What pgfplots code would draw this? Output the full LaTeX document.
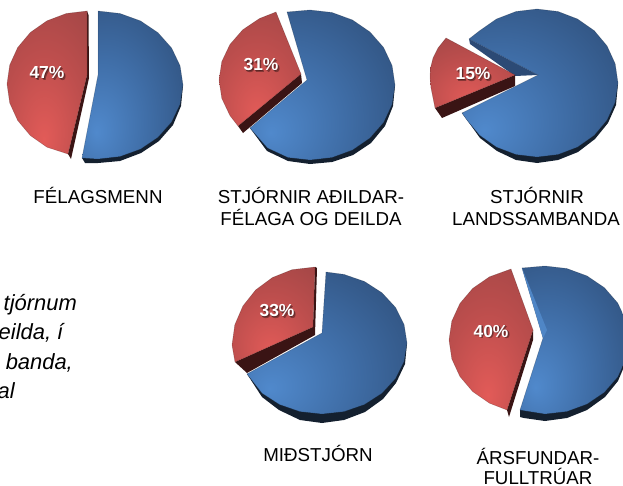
\documentclass[border=0pt]{standalone}
\usepackage{fontspec}
\setmainfont{Liberation Sans}
\usepackage{pgfplots}
\usepackage{pgfplotstable}
\pgfplotsset{compat=1.18}

\definecolor{blueHi}{HTML}{5089CC}
\definecolor{blueMid}{HTML}{3F6DA6}
\definecolor{blueLo}{HTML}{2C4A73}
\definecolor{blueRim}{HTML}{14202F}
\definecolor{blueWall}{HTML}{2C4A75}
\definecolor{blueFacet}{HTML}{4F86C6}
\definecolor{redHi}{HTML}{E25B58}
\definecolor{redMid}{HTML}{BD4E4D}
\definecolor{redLo}{HTML}{964343}
\definecolor{redRim}{HTML}{3A1414}

\pgfdeclareradialshading{bluepie}{\pgfpoint{-18bp}{-16bp}}{color(0bp)=(blueHi);color(22bp)=(blueMid);color(50bp)=(blueLo);color(100bp)=(blueLo)}
\pgfdeclareradialshading{redpie}{\pgfpoint{-2bp}{-20bp}}{color(0bp)=(redHi);color(25bp)=(redMid);color(55bp)=(redLo);color(100bp)=(redLo)}

% pie outlines in picture pixels, one table per slice
\pgfplotstableread{
98 11
120 13.5
140.5 20.9
158 32.7
171.6 48
180.1 65.8
183 85
180.1 104.2
171.6 122
158 137.3
140.5 149.1
120 156.5
98 159
82 158
98 75
}\blueA
\pgfplotstableread{
183 85
181 106
173 125
159 141
141 153
120 161
98 163
85 163
82 158
}\blueArim
\pgfplotstableread{
87 11
66.3 13.5
47 20.8
30.4 32.4
17.7 47.5
9.7 65.1
7 84
9.7 102.9
17.7 120.5
30.4 135.6
47 147.2
68 154
87 75
}\redA
\pgfplotstableread{
87 11
88.5 15
89 78
71 159
68 154
87 75
}\redArim
\pgfplotstableread{
287 12
310 10
332 12.5
352.5 20
370 32
383.6 47.5
392.1 65.6
395 85
392.1 104.4
383.6 122.5
370 138
352.5 150
332 157.5
310 160
288 157.5
267.5 148
250 128
307 80
}\blueB
\pgfplotstableread{
395 85
393 106
385 126
371 143
353 155
332 162
310 164
288 161
267 151
250 128
}\blueBrim
\pgfplotstableread{
276 12
259.5 18.5
242.7 29.8
229.9 44.5
221.8 61.6
219 80
221.8 98.4
229.9 115.5
238 126
301 74
}\redB
\pgfplotstableread{
238 126
301 74
302 83
243 133
}\redBrim
\pgfplotstableread{
469 39
479.7 30.7
496.5 19
516 11.5
537 9
558 11.5
577.5 19
594.3 30.7
607.1 46
615.2 63.8
618 83
615.2 102.2
607.1 120
594.3 135.3
577.5 147.1
558 154.5
537 157
516 154.5
496.5 147.1
479.7 135.3
466.9 120
462 113
538 75
}\blueC
\pgfplotstableread{
618 83
616 105
608 123
595 139
578 152
558 160
537 163
516 160
497 151
480 138
462 113
}\blueCrim
\pgfplotstableread{
469 39
538 75
515 76
470 44
}\wallC
\pgfplotstableread{
446 38
438 48
433 58
430.5 68
430 77
431 88
433 98
435 108
515 75
}\redC
\pgfplotstableread{
435 108
515 75
515 86
442 118
}\redCrim
\pgfplotstableread{
326 272
344 274.4
364.5 281.5
382 292.8
395.6 307.5
404.1 324.6
407 343
404.1 361.4
395.6 378.5
382 393.2
364.5 404.5
344 411.6
322 414
300 411.6
279.5 404.5
262 393.2
247 374
322 333
}\blueD
\pgfplotstableread{
407 343
405 364
396 383
383 399
365 412
344 420
322 423
300 420
279 410
262 397
247 374
}\blueDrim
\pgfplotstableread{
315 267
292 269.7
272.5 277.5
255.7 289.9
242.9 306
234.8 324.8
232 345
235 362
313 327
}\redD
\pgfplotstableread{
235 362
313 327
315 267
317 268
315 335
247 373
}\redDrim
\pgfplotstableread{
522 268
545 266
566.8 268.5
587 275.9
604.4 287.7
617.7 303
626.1 320.8
629 340
626.1 359.2
617.7 377
604.4 392.3
587 404.1
566.8 411.5
545 414
520 410
543 338
}\blueE
\pgfplotstableread{
629 340
626 362
618 381
605 397
587 410
567 418
545 421
524 418
520 417
520 410
}\blueErim
\pgfplotstableread{
522 268
547 330
543 338
}\facetE
\pgfplotstableread{
511 269
489.5 276.8
472.7 288.4
459.9 303.5
451.8 321.1
449 340
451.8 358.9
459.9 376.5
472.7 391.6
489.5 403.2
507 410
533 330
}\redE
\pgfplotstableread{
533 330
533 340
509 417
507 410
}\redErim

% slice = dark rim under a shaded top face
\newcommand{\slice}[4]{%
  \addplot[fill=#4,draw=none] table {#2} -- cycle;
  \addplot[shade,shading=#3,draw=#4,draw opacity=0.3,line width=0.5pt] table {#1} -- cycle;
}
\newcommand{\pielabel}[3]{%
  \node[text=black,opacity=0.35,font=\fontsize{17.5}{19}\bfseries\selectfont,xshift=1.6bp,yshift=-1.6bp] at (axis cs:#1,#2) {#3};
  \node[text=black,opacity=0.35,font=\fontsize{17.5}{19}\bfseries\selectfont,xshift=0.7bp,yshift=-0.7bp] at (axis cs:#1,#2) {#3};
  \node[text=white,font=\fontsize{17.5}{19}\bfseries\selectfont] at (axis cs:#1,#2) {#3};
}
\newcommand{\capt}[3]{%
  \node[anchor=base,inner sep=0pt,text=black,font=\fontsize{18.8}{22}\selectfont] at (axis cs:#1,#2) {#3};
}
\newcommand{\side}[3]{%
  \node[anchor=base east,inner sep=0pt,text=black,font=\fontsize{22}{24}\itshape\selectfont] at (axis cs:#1,#2) {#3};
}

\begin{document}
\begin{tikzpicture}
\useasboundingbox (0,0) rectangle (623bp,486bp);
\begin{axis}[
    anchor=south west,
    at={(0,0)},
    width=623bp,
    height=486bp,
    scale only axis,
    axis lines=none,
    xmin=0, xmax=623,
    ymin=0, ymax=486,
    y dir=reverse,
    clip=true,
]
\slice{\blueA}{\blueArim}{bluepie}{blueRim}
\slice{\redA}{\redArim}{redpie}{redRim}
\slice{\blueB}{\blueBrim}{bluepie}{blueRim}
\slice{\redB}{\redBrim}{redpie}{redRim}
\slice{\blueC}{\blueCrim}{bluepie}{blueRim}
\addplot[fill=blueWall,draw=none] table {\wallC} -- cycle;
\slice{\redC}{\redCrim}{redpie}{redRim}
\slice{\blueD}{\blueDrim}{bluepie}{blueRim}
\slice{\redD}{\redDrim}{redpie}{redRim}
\slice{\blueE}{\blueErim}{bluepie}{blueRim}
\addplot[fill=blueFacet,draw=none] table {\facetE} -- cycle;
\slice{\redE}{\redErim}{redpie}{redRim}

\pielabel{47}{73}{47\%}
\pielabel{261}{65}{31\%}
\pielabel{473}{74}{15\%}
\pielabel{277}{311}{33\%}
\pielabel{491}{331}{40\%}

\capt{98}{203}{FÉLAGSMENN}
\capt{311}{203}{STJÓRNIR AÐILDAR-}
\capt{311}{225}{FÉLAGA OG DEILDA}
\capt{537}{203}{STJÓRNIR}
\capt{536}{225}{LANDSSAMBANDA}
\capt{318}{461}{MIÐSTJÓRN}
\capt{538}{464}{ÁRSFUNDAR-}
\capt{538}{484}{FULLTRÚAR}

\side{77}{310}{tjórnum}
\side{63.5}{339}{eilda, í}
\side{73}{369}{banda,}
\side{15}{398}{al}
\end{axis}
\end{tikzpicture}
\end{document}
